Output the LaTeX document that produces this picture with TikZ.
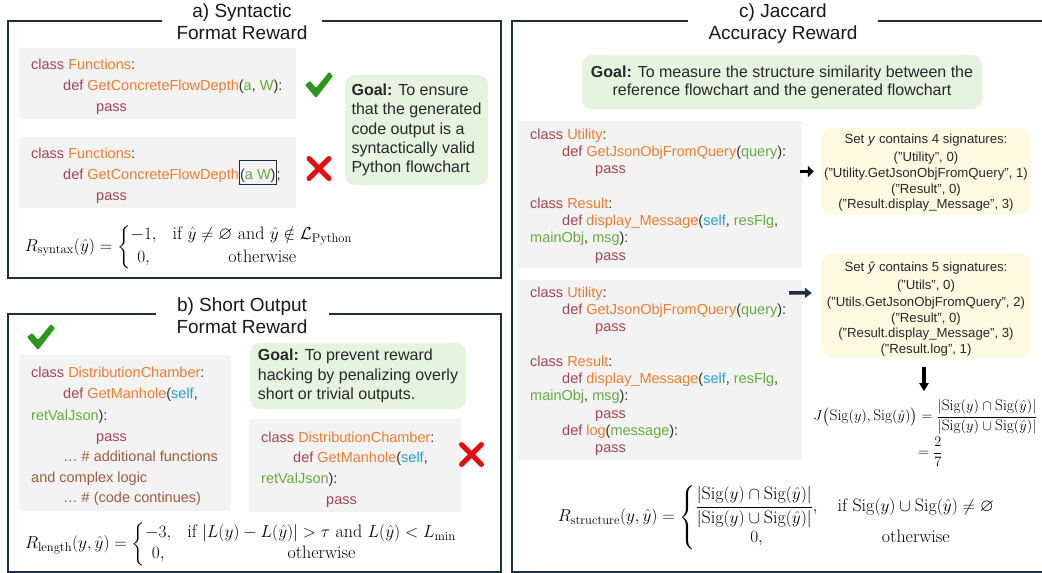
\documentclass[tikz,border=0pt]{standalone}
\usepackage{amsmath,amssymb}
\usepackage{fontspec}
\setsansfont{Liberation Sans}
\usetikzlibrary{arrows.meta,calc}
\definecolor{navy}{RGB}{28,48,64}
\definecolor{codegray}{RGB}{243,243,243}
\definecolor{goalgreen}{RGB}{229,243,223}
\definecolor{setyellow}{RGB}{254,250,226}
\definecolor{kwc}{RGB}{165,68,80}
\definecolor{fnc}{RGB}{237,125,49}
\definecolor{parc}{RGB}{100,172,62}
\definecolor{selc}{RGB}{36,160,220}
\definecolor{comc}{RGB}{160,90,60}
\definecolor{punc}{RGB}{50,50,50}
\definecolor{textc}{RGB}{40,40,40}
\definecolor{checkgreen}{RGB}{46,150,30}
\definecolor{xred}{RGB}{224,16,16}
\newcommand{\ckw}[1]{\textcolor{kwc}{#1}}
\newcommand{\cfn}[1]{\textcolor{fnc}{#1}}
\newcommand{\cpar}[1]{\textcolor{parc}{#1}}
\newcommand{\csel}[1]{\textcolor{selc}{#1}}
\newcommand{\ccom}[1]{\textcolor{comc}{#1}}
\newcommand{\Sg}{\mathrm{Sig}}
\tikzset{
  panel/.style={draw=navy, line width=2.6pt},
  codebox/.style={fill=codegray, inner sep=0pt},
  goalbox/.style={fill=goalgreen, rounded corners=10pt, inner sep=0pt, text=textc, font=\sffamily\fontsize{16}{19.3}\selectfont},
  setbox/.style={fill=setyellow, rounded corners=12pt, inner sep=0pt},
  codeln/.style={anchor=base west, inner sep=0pt, text=punc, font=\sffamily\fontsize{14.5}{17}\selectfont},
  setln/.style={anchor=base, inner sep=0pt, text=textc, font=\sffamily\fontsize{13.2}{15}\selectfont},
  ttl/.style={anchor=base, inner sep=0pt, text=black!90, font=\sffamily\fontsize{19}{22}\selectfont},
  formula/.style={inner sep=0pt, font=\rmfamily\fontsize{18}{21}\selectfont},
  blackarrow/.style={draw=black, line width=3.5pt, -{Triangle[length=6pt,width=11pt]}},
  navyarrow/.style={draw=navy, line width=3.5pt, -{Triangle[length=7pt,width=10pt]}},
  chk/.pic={\fill[checkgreen, rounded corners=1pt] (-14,0) -- (-9,-4) -- (-3,3) -- (10,-13) -- (14,-9) -- (-3,13) -- cycle;},
  xmk/.pic={\draw[xred, line width=5pt, line cap=round] (-10,-10) -- (10,10) (10,-10) -- (-10,10);}
}
\begin{document}
\begin{tikzpicture}[x=1pt,y=-1pt]
\useasboundingbox (0,0) rectangle (1042,573);
\fill[white] (0,0) rectangle (1042,573);

% ---------------- panel a ----------------
\draw[panel] (162,21) -- (8,21) -- (8,278) -- (501,278) -- (501,21) -- (322,21);
\node[ttl] (ta1) at (242,17) {a) Syntactic};
\node[ttl] (ta2) at (242,39.5) {Format Reward};

\node[codebox, minimum width=277pt, minimum height=71pt] (codea1) at (157.5,83.5) {};
\node[codeln] (a1l1) at (31,69) {\ckw{class} \cfn{Functions}:};
\node[codeln] (a1l2) at (63,90) {\ckw{def} \cfn{GetConcreteFlowDepth}(\cpar{a}, \cpar{W}):};
\node[codeln] (a1l3) at (96,111) {\ckw{pass}};

\node[codebox, minimum width=277pt, minimum height=71pt] (codea2) at (157.5,172.5) {};
\node[codeln] (a2l1) at (31,158) {\ckw{class} \cfn{Functions}:};
\node[codeln] (a2l2) at (63,179.5) {\ckw{def} \cfn{GetConcreteFlowDepth}};
\node[codeln, draw=navy, line width=1pt, inner xsep=0.5pt, inner ysep=2pt, text height=17pt, text depth=3pt] (a2box) at (a2l2.base east) {(\cpar{a W})};
\node[codeln] (a2semi) at (a2box.base east) {;};
\node[codeln] (a2l3) at (96,200.5) {\ckw{pass}};

\pic at (319,85) {chk};
\pic at (319,168.5) {xmk};

\node[goalbox, align=left, minimum width=143pt, minimum height=110pt] (goala) at (416.5,130)
  {\textbf{Goal:} To ensure\\that the generated\\code output is a\\syntactically valid\\Python flowchart};

\node[formula] (fa) at (189,247) {$R_{\mathrm{syntax}}(\hat{y})=\left\{\begin{array}{@{}c@{\hspace{16pt}}c@{}}-1, & \text{if } \hat{y}\neq\varnothing \text{ and } \hat{y}\notin\mathcal{L}_{\mathrm{Python}}\\[2pt] 0, & \text{otherwise}\end{array}\right.$};

% ---------------- panel b ----------------
\draw[panel] (156,314) -- (8,314) -- (8,572) -- (501,572) -- (501,314) -- (329,314);
\node[ttl] (tb1) at (242,311) {b) Short Output};
\node[ttl] (tb2) at (242,333.5) {Format Reward};

\pic at (41,337) {chk};

\node[codebox, minimum width=212pt, minimum height=156pt] (codeb1) at (125,433) {};
\node[codeln] (b1l1) at (31,377) {\ckw{class} \cfn{DistributionChamber}:};
\node[codeln] (b1l2) at (63,398) {\ckw{def} \cfn{GetManhole}(\csel{self},};
\node[codeln] (b1l3) at (31,420) {\cpar{retValJson}):};
\node[codeln] (b1l4) at (96,441) {\ckw{pass}};
\node[codeln] (b1l5) at (63,461) {\ccom{… \# additional functions}};
\node[codeln] (b1l6) at (31,482) {\ccom{and complex logic}};
\node[codeln] (b1l7) at (63,502) {\ccom{… \# (code continues)}};

\node[goalbox, align=left, minimum width=216pt, minimum height=66pt] (goalb) at (358,376)
  {\textbf{Goal:} To prevent reward\\hacking by penalizing overly\\short or trivial outputs.};

\node[codebox, minimum width=212pt, minimum height=93pt] (codeb2) at (355,465.5) {};
\node[codeln] (b2l1) at (261,442) {\ckw{class} \cfn{DistributionChamber}:};
\node[codeln] (b2l2) at (293,462) {\ckw{def} \cfn{GetManhole}(\csel{self},};
\node[codeln] (b2l3) at (261,483) {\cpar{retValJson}):};
\node[codeln] (b2l4) at (326,504) {\ckw{pass}};

\pic at (471.5,454.5) {xmk};

\node[formula] (fb) at (241,544) {$R_{\mathrm{length}}(y,\hat{y})=\left\{\begin{array}{@{}c@{\hspace{16pt}}c@{}}-3, & \text{if } |L(y)-L(\hat{y})|>\tau \text{ and } L(\hat{y})<L_{\min}\\ 0, & \text{otherwise}\end{array}\right.$};

% ---------------- panel c ----------------
\draw[panel] (688,21) -- (512,21) -- (512,572) -- (1046,572) -- (1046,21) -- (878,21);
\node[ttl] (tc1) at (783,17) {c) Jaccard};
\node[ttl] (tc2) at (783,39.5) {Accuracy Reward};

\node[goalbox, align=center, minimum width=400pt, minimum height=54pt, font=\sffamily\fontsize{16}{18}\selectfont] (goalc) at (782,82)
  {\textbf{Goal:} To measure the structure similarity between the\\reference flowchart and the generated flowchart};

\node[codebox, minimum width=285pt, minimum height=147pt] (codec1) at (659.5,194.5) {};
\node[codeln] (c1l1) at (530,139) {\ckw{class} \cfn{Utility}:};
\node[codeln] (c1l2) at (562,156.3) {\ckw{def} \cfn{GetJsonObjFromQuery}(\cpar{query}):};
\node[codeln] (c1l3) at (595,173.6) {\ckw{pass}};
\node[codeln] (c1l4) at (530,208.2) {\ckw{class} \cfn{Result}:};
\node[codeln] (c1l5) at (562,225.5) {\ckw{def} \cfn{display\_Message}(\csel{self}, \cpar{resFlg},};
\node[codeln] (c1l6) at (530,242.8) {\cpar{mainObj}, \cpar{msg}):};
\node[codeln] (c1l7) at (595,260.1) {\ckw{pass}};

\node[codebox, minimum width=285pt, minimum height=180pt] (codec2) at (659.5,370) {};
\node[codeln] (c2l1) at (530,297) {\ckw{class} \cfn{Utility}:};
\node[codeln] (c2l2) at (562,314.3) {\ckw{def} \cfn{GetJsonObjFromQuery}(\cpar{query}):};
\node[codeln] (c2l3) at (595,331.6) {\ckw{pass}};
\node[codeln] (c2l4) at (530,366.2) {\ckw{class} \cfn{Result}:};
\node[codeln] (c2l5) at (562,383.5) {\ckw{def} \cfn{display\_Message}(\csel{self}, \cpar{resFlg},};
\node[codeln] (c2l6) at (530,400.8) {\cpar{mainObj}, \cpar{msg}):};
\node[codeln] (c2l7) at (595,418.1) {\ckw{pass}};
\node[codeln] (c2l8) at (562,435.4) {\ckw{def} \cfn{log}(\cpar{message}):};
\node[codeln] (c2l9) at (595,452.7) {\ckw{pass}};

\node[setbox, minimum width=210pt, minimum height=87pt] (sety) at (926,171.5) {};
\node[setln] (s1) at (926,143) {Set \textit{y} contains 4 signatures:};
\node[setln] (s2) at (926,161) {("Utility", 0)};
\node[setln] (s3) at (926,177) {("Utility.GetJsonObjFromQuery", 1)};
\node[setln] (s4) at (926,193) {("Result", 0)};
\node[setln] (s5) at (926,208) {("Result.display\_Message", 3)};

\node[setbox, minimum width=210pt, minimum height=105pt] (setyh) at (926,305.5) {};
\node[setln] (h1) at (926,271) {Set \textit{\^y} contains 5 signatures:};
\node[setln] (h2) at (926,289.5) {("Utils", 0)};
\node[setln] (h3) at (926,306) {("Utils.GetJsonObjFromQuery", 2)};
\node[setln] (h4) at (926,322.5) {("Result", 0)};
\node[setln] (h5) at (926,337.5) {("Result.display\_Message", 3)};
\node[setln] (h6) at (926,353.5) {("Result.log", 1)};

\draw[blackarrow] ($(codec1.east |- sety.west)+(-2,0)$) -- ($(sety.west)+(-7,0)$);
\draw[navyarrow] ($(codec2.north east)+(-13,13)$) -- ($(setyh.west)+(-9,-12.5)$);
\draw[blackarrow, -{Triangle[length=8pt,width=9pt]}] ($(setyh.south)+(-2,9)$) -- ($(setyh.south)+(-2,33)$);

\node[formula, font=\rmfamily\fontsize{15.5}{18}\selectfont] (jf1) at (925.5,417) {$\displaystyle J\bigl(\Sg(y),\Sg(\hat{y})\bigr)=\frac{|\Sg(y)\cap\Sg(\hat{y})|}{|\Sg(y)\cup\Sg(\hat{y})|}$};
\node[formula, font=\rmfamily\fontsize{15.5}{18}\selectfont, anchor=west] (jf2) at (918,452) {$\displaystyle =\frac{2}{7}$};

\node[formula] (fc) at (776.5,517.5) {$\displaystyle R_{\mathrm{structure}}(y,\hat{y})=\left\{\begin{array}{@{}c@{\hspace{20pt}}c@{}}\dfrac{|\Sg(y)\cap\Sg(\hat{y})|}{|\Sg(y)\cup\Sg(\hat{y})|}, & \text{if } \Sg(y)\cup\Sg(\hat{y})\neq\varnothing\\[9pt] 0, & \text{otherwise}\end{array}\right.$};
\end{tikzpicture}
\end{document}
